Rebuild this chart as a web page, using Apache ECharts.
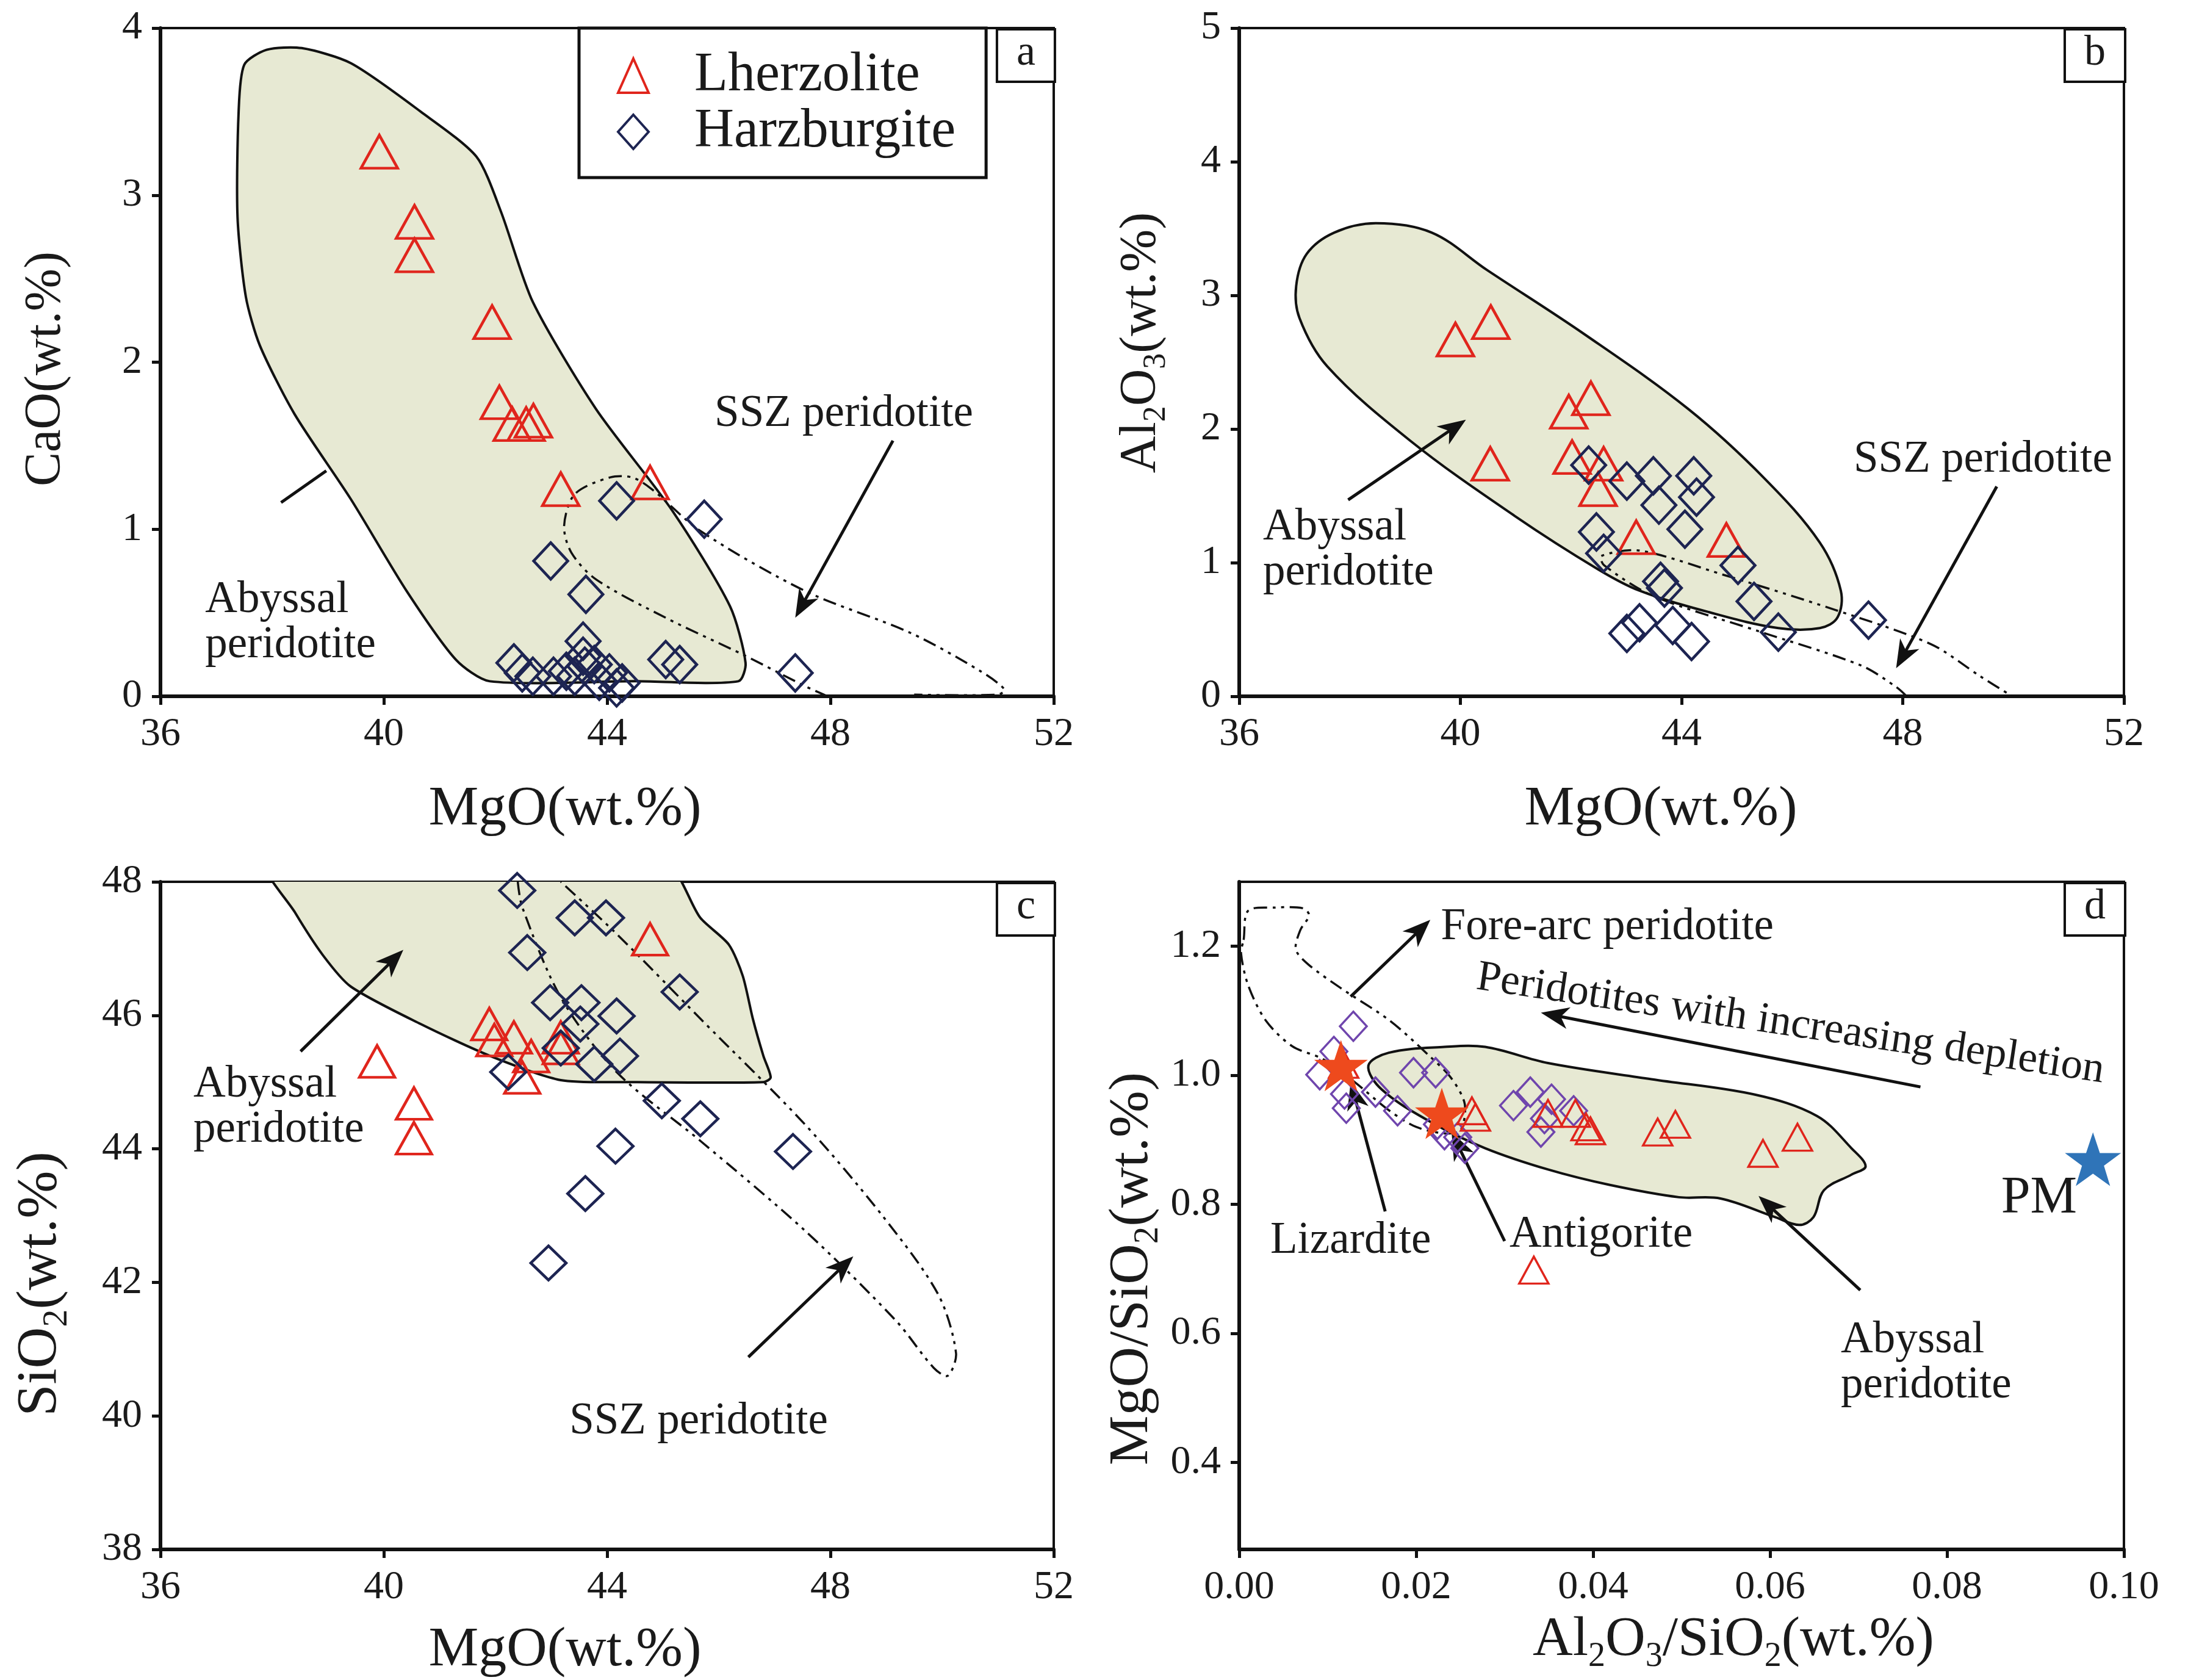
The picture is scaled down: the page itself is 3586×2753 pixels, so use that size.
<!DOCTYPE html>
<html><head><meta charset="utf-8">
<script src="https://cdn.jsdelivr.net/npm/echarts@6/dist/echarts.min.js"></script>
<style>html,body{margin:0;padding:0;background:#fff}#c{width:3586px;height:2753px}</style>
</head><body><div id="c"></div>
<script>
// ---------------- DATA ----------------
// Panel a: MgO vs CaO
const lherzA = [[39.92,3.26],[40.55,2.84],[40.55,2.64],[41.94,2.24],[42.07,1.76],[42.3,1.63],[42.55,1.63],[42.68,1.65],[43.17,1.24],[44.77,1.28]];
const harzA = [[44.17,1.17],[45.74,1.06],[42.99,0.81],[43.62,0.61],[43.57,0.33],[43.57,0.24],[42.33,0.20],[42.48,0.14],[42.67,0.12],[43.04,0.12],[43.27,0.15],[43.42,0.12],[43.77,0.19],[44.04,0.14],[44.17,0.05],[44.27,0.08],[45.05,0.22],[45.3,0.19],[47.37,0.14],[43.86,0.09],[43.6,0.18]];
const abyssalA = [[41.9,0.09],[44.5,0.09],[46.35,0.09],[46.48,0.2],[46.2,0.54],[45.17,1.11],[43.8,1.72],[42.67,2.36],[42.1,2.9],[41.66,3.23],[40.66,3.5],[39.41,3.79],[38.53,3.88],[37.9,3.87],[37.5,3.78],[37.4,3.5],[37.38,2.87],[37.53,2.39],[37.78,2.1],[38.4,1.69],[39.41,1.18],[40.41,0.63],[41.29,0.22]];
const sszA = [[47.95,0.0],[47.55,0.06],[46.43,0.25],[45.05,0.47],[43.8,0.70],[43.36,0.86],[43.23,1.02],[43.42,1.21],[44.05,1.31],[44.45,1.31],[44.8,1.24],[45.67,0.99],[47.55,0.63],[49.43,0.38],[50.69,0.15],[51.12,0.04],[51.0,0.01],[49.5,0.01]];
const arrowsA = [[38.16,1.16,38.97,1.35,0],[49.12,1.53,47.37,0.47,1]];
const textsA = [[36.8,0.44,'Abyssal\nperidotite','left',73,0],[48.24,1.69,'SSZ peridotite','center',73,0]];

// Panel b: MgO vs Al2O3
const lherzB = [[39.91,2.67],[40.55,2.80],[40.54,1.74],[41.96,2.13],[42.36,2.23],[42.02,1.79],[42.59,1.74],[42.49,1.55],[43.18,1.19],[44.81,1.17]];
const harzB = [[42.32,1.73],[43.01,1.61],[43.49,1.65],[44.22,1.65],[44.27,1.49],[43.59,1.43],[44.06,1.25],[42.46,1.23],[42.59,1.07],[45.02,0.98],[43.62,0.86],[43.69,0.81],[45.31,0.71],[47.38,0.57],[45.75,0.48],[43.01,0.47],[43.24,0.55],[43.84,0.53],[44.18,0.41]];
const abyssalB = [[37.03,3.07],[37.22,3.31],[37.72,3.47],[38.47,3.54],[39.48,3.47],[40.48,3.19],[42.24,2.71],[44.12,2.15],[45.5,1.63],[46.5,1.15],[46.88,0.79],[46.82,0.59],[46.5,0.51],[45.75,0.51],[44.49,0.63],[43.24,0.79],[42.49,0.95],[40.98,1.35],[39.1,1.91],[37.59,2.47],[37.09,2.83]];
const sszB = [[48.07,0.0],[47.88,0.07],[47.25,0.23],[45.37,0.49],[43.49,0.75],[42.6,0.98],[42.55,1.05],[43.24,1.09],[44.75,0.91],[46.75,0.65],[48.51,0.39],[49.4,0.15],[49.98,0.0]];
const arrowsB = [[37.97,1.47,40.1,2.07,1],[49.7,1.57,47.88,0.21,1]];
const textsB = [[36.43,1.09,'Abyssal\nperidotite','left',73,0],[49.45,1.77,'SSZ peridotite','center',73,0]];

// Panel c: MgO vs SiO2
const lherzC = [[39.88,45.31],[40.54,44.68],[40.54,44.16],[41.89,45.87],[41.98,45.63],[42.33,45.67],[42.48,45.07],[42.64,45.39],[43.17,45.67],[43.17,45.51],[44.77,47.14]];
const harzC = [[42.39,47.87],[43.42,47.46],[43.98,47.46],[42.57,46.94],[42.98,46.19],[43.54,46.19],[44.17,45.99],[43.52,45.87],[45.3,46.35],[43.17,45.51],[43.77,45.27],[44.23,45.39],[42.23,45.15],[44.98,44.72],[45.67,44.45],[44.15,44.04],[47.33,43.96],[43.61,43.33],[42.95,42.29]];
const abyssalC = [[37.9,48.3],[45.0,48.3],[45.67,47.46],[46.18,47.06],[46.43,46.59],[46.61,45.95],[46.8,45.39],[46.93,45.07],[46.8,45.0],[44.42,45.0],[43.17,45.03],[41.91,45.39],[40.66,45.87],[39.41,46.43],[38.91,46.9],[38.41,47.54]];
const sszC = [[42.4,48.0],[42.48,47.62],[43.17,46.27],[44.17,45.15],[45.67,44.12],[47.55,42.77],[49.18,41.42],[49.85,40.72],[50.1,40.6],[50.25,40.94],[49.93,41.82],[48.93,43.0],[47.55,44.36],[45.67,45.95],[44.17,47.22],[43.17,48.0]];
const arrowsC = [[38.51,45.46,40.35,46.98,1],[46.53,40.88,48.41,42.39,1]];
const textsC = [[36.59,44.62,'Abyssal\nperidotite','left',73,0],[45.64,39.91,'SSZ peridotite','center',73,0]];

// Panel d: Al2O3/SiO2 vs MgO/SiO2
const lherzD = [[0.0263,0.945],[0.0267,0.935],[0.0118,1.017],[0.0349,0.941],[0.0380,0.941],[0.0392,0.92],[0.0397,0.914],[0.0473,0.912],[0.0493,0.924],[0.0592,0.879],[0.0631,0.904],[0.0333,0.698]];
const harzD = [[0.0129,1.076],[0.0107,1.037],[0.0091,1.001],[0.0119,0.971],[0.0121,0.949],[0.0154,0.974],[0.0179,0.945],[0.0197,1.004],[0.0222,1.004],[0.031,0.953],[0.0329,0.974],[0.0353,0.963],[0.0345,0.933],[0.0341,0.912],[0.0378,0.945],[0.0232,0.908],[0.0247,0.904],[0.0255,0.887],[0.0224,0.924]];
const lizardite = [[0.0115,1.015]];
const antigorite = [[0.0229,0.941]];
const primitiveMantle = [[0.0965,0.87]];
const abyssalD = [[0.0146,1.015],[0.0169,1.035],[0.0232,1.044],[0.0278,1.044],[0.0349,1.019],[0.0466,0.994],[0.0583,0.97],[0.0653,0.937],[0.0692,0.887],[0.0708,0.859],[0.0692,0.846],[0.0661,0.822],[0.0649,0.78],[0.0633,0.768],[0.0606,0.78],[0.0544,0.809],[0.0497,0.811],[0.0419,0.83],[0.0349,0.854],[0.0278,0.887],[0.0216,0.928],[0.0161,0.978]];
const foreArcD = [[0.0005,1.21],[0.001,1.255],[0.004,1.26],[0.0072,1.259],[0.0079,1.248],[0.0069,1.225],[0.0064,1.195],[0.0078,1.172],[0.0115,1.135],[0.017,1.085],[0.0215,1.03],[0.024,0.995],[0.0255,0.955],[0.025,0.915],[0.0232,0.91],[0.02,0.92],[0.017,0.945],[0.013,0.99],[0.0095,1.025],[0.006,1.045],[0.003,1.085],[0.001,1.14],[0.0002,1.19]];
const arrowsD = [[0.0126,1.122,0.0216,1.241,1],[0.077,0.982,0.0341,1.097,1],[0.0165,0.789,0.0126,0.99,1],[0.0300,0.743,0.0240,0.912,1],[0.0702,0.667,0.0587,0.813,1]];
const textsD = [[0.0228,1.229,'Fore-arc peridotite','left',73,0],[0.0623,1.079,'Peridotites with increasing depletion','center',71,-8.5],[0.0126,0.743,'Lizardite','center',73,0],[0.0409,0.752,'Antigorite','center',73,0],[0.068,0.554,'Abyssal\nperidotite','left',73,0],[0.0904,0.809,'PM','center',86,0]];

const yTicksD = [0.4, 0.6, 0.8, 1.0, 1.2];

// ---------------- STYLE ----------------
const FONT = '"Liberation Serif","Times New Roman",serif';
const INK = '#1a1a1a';
const RED = '#e0251c';
const NAVY = '#1d2452';
const PURPLE = '#6f45ad';
const FIELD = '#e7e9d3';
const STAR = 'path://M50,0 L61.8,35.1 L98.1,35.1 L68.8,56.7 L79.4,91 L50,70 L20.6,91 L31.2,56.7 L1.9,35.1 L38.2,35.1 Z';

function richFor(size) {
  return {
    n:{fontFamily:FONT,fontSize:size,color:INK,lineHeight:Math.round(size*1.2)},
    s:{fontFamily:FONT,fontSize:Math.round(size*0.62),color:INK,lineHeight:Math.round(size*0.5),verticalAlign:'bottom'}
  };
}

function axis(gi, min, max, interval, name, gap, nameSize, namePad, fmt, extra) {
  const a = {
    gridIndex:gi, type:'value', min, max, name, nameLocation:'middle', nameGap:gap,
    nameTextStyle:{fontFamily:FONT,fontSize:nameSize,color:INK,padding:namePad,rich:richFor(nameSize)},
    axisLine:{show:true,onZero:false,lineStyle:{color:'#111',width:6}},
    axisTick:{show:true,inside:false,length:14,lineStyle:{color:'#111',width:5}},
    axisLabel:{fontFamily:FONT,fontSize:66,color:INK,margin:30,formatter:fmt},
    splitLine:{show:false}
  };
  if (interval != null) a.interval = interval;
  return Object.assign(a, extra || {});
}

function scatter(gi, name, data, symbol, size, color, fill, bw) {
  return {type:'scatter', name, xAxisIndex:gi, yAxisIndex:gi, data, symbol, symbolSize:size, z:6,
    itemStyle:{color: fill || 'rgba(255,255,255,0)', borderColor:color, borderWidth: bw == null ? 4.5 : bw, opacity:1},
    emphasis:{disabled:true}, silent:true};
}

function field(gi, pts, opts) {
  return {type:'custom', xAxisIndex:gi, yAxisIndex:gi, data:pts, clip:true, silent:true, z:1,
    renderItem(params, api) {
      if (params.dataIndex !== 0) return null;
      const p = pts.map(v => api.coord(v));
      return {type: opts.closed ? 'polygon' : 'polyline',
        shape:{points:p, smooth: opts.smooth == null ? 0.3 : opts.smooth},
        style:{fill: opts.fill || 'none', stroke:'#111', lineWidth: opts.lw || 4, lineDash: opts.dash || null}};
    }};
}

function arrows(gi, list) {
  return {type:'custom', xAxisIndex:gi, yAxisIndex:gi, data:list.map(a => [a[0], a[1]]), silent:true, z:4,
    renderItem(params, api) {
      const a = list[params.dataIndex];
      const p1 = api.coord([a[0], a[1]]), p2 = api.coord([a[2], a[3]]);
      const dx = p2[0]-p1[0], dy = p2[1]-p1[1], len = Math.hypot(dx, dy), ux = dx/len, uy = dy/len;
      const L = 46, W = 18;
      const children = [];
      const endX = a[4] ? p2[0]-ux*L*0.7 : p2[0], endY = a[4] ? p2[1]-uy*L*0.7 : p2[1];
      children.push({type:'line', shape:{x1:p1[0],y1:p1[1],x2:endX,y2:endY}, style:{stroke:'#111',lineWidth:5}});
      if (a[4]) {
        const bx = p2[0]-ux*L, by = p2[1]-uy*L;
        const nx = p2[0]-ux*L*0.72, ny = p2[1]-uy*L*0.72;
        children.push({type:'polygon', shape:{points:[[p2[0],p2[1]],[bx-uy*W,by+ux*W],[nx,ny],[bx+uy*W,by-ux*W]]}, style:{fill:'#111'}});
      }
      return {type:'group', children};
    }};
}

function texts(gi, list) {
  return {type:'custom', xAxisIndex:gi, yAxisIndex:gi, data:list.map(t => [t[0], t[1]]), silent:true, z:4,
    renderItem(params, api) {
      const t = list[params.dataIndex];
      const p = api.coord([t[0], t[1]]);
      return {type:'text', x:p[0], y:p[1], rotation:(t[5] || 0) * Math.PI / 180,
        style:{text:t[2], fontFamily:FONT, fontSize:t[4], fill:INK, align:t[3], verticalAlign:'middle', lineHeight:74}};
    }};
}

function panelTag(letter, right, top) {
  return {text:letter, right, top, padding:[4,32,10,32], borderColor:'#111', borderWidth:4, backgroundColor:'#fff',
    textStyle:{fontFamily:FONT, fontSize:70, fontWeight:'normal', color:INK, lineHeight:72}};
}

const chart = echarts.init(document.getElementById('c'), null, {renderer:'canvas'});
const gridStyle = {show:true, borderColor:'#111', borderWidth:4, backgroundColor:'#fff', containLabel:false};

chart.setOption({
  animation:false,
  backgroundColor:'#fff',
  title:[panelTag('a', 3586-1729, 48), panelTag('b', 3586-3483, 48), panelTag('c', 3586-1729, 1447), panelTag('d', 3586-3483, 1447)],
  legend:{left:949, top:46, orient:'vertical', data:['Lherzolite','Harzburgite'], selectedMode:false,
    itemWidth:50, itemHeight:56, itemGap:2, padding:[33,50,30,62], borderColor:'#111', borderWidth:5, backgroundColor:'#fff',
    textStyle:{fontFamily:FONT, fontSize:90, color:INK, lineHeight:80, padding:[0,0,0,70]}, itemStyle:{borderWidth:4}},
  grid:[
    Object.assign({left:263, top:46, width:1464, height:1095}, gridStyle),
    Object.assign({left:2031, top:46, width:1450, height:1095}, gridStyle),
    Object.assign({left:263, top:1445, width:1464, height:1094}, gridStyle),
    Object.assign({left:2031, top:1445, width:1450, height:1094}, gridStyle)
  ],
  xAxis:[
    axis(0, 36, 52, 4, 'MgO(wt.%)', 140, 92, [0,138,0,0]),
    axis(1, 36, 52, 4, 'MgO(wt.%)', 140, 92, [0,68,0,0]),
    axis(2, 36, 52, 4, 'MgO(wt.%)', 120, 92, [0,138,0,0]),
    axis(3, 0, 0.1, 0.02, '{n|Al}{s|2}{n|O}{s|3}{n|/SiO}{s|2}{n|(wt.%)}', 95, 91, [0,0,0,170], v => v.toFixed(2))
  ],
  yAxis:[
    axis(0, 0, 4, 1, 'CaO(wt.%)', 145, 84, [0,22,0,0]),
    axis(1, 0, 5, 1, '{n|Al}{s|2}{n|O}{s|3}{n|(wt.%)}', 110, 84, [0,0,0,64]),
    axis(2, 38, 48, 2, '{n|SiO}{s|2}{n|(wt.%)}', 140, 94, [0,224,0,0]),
    axis(3, 0.265, 1.3, null, '{n|MgO/SiO}{s|2}{n|(wt.%)}', 120, 92, [0,174,0,0], null,
      {axisLabel:{fontFamily:FONT,fontSize:66,color:INK,margin:30,formatter:v => Number(v).toFixed(1),customValues:yTicksD},
       axisTick:{show:true,inside:false,length:14,lineStyle:{color:'#111',width:5},customValues:yTicksD}})
  ],
  series:[
    // panel a
    field(0, abyssalA, {closed:true, fill:FIELD, lw:4, smooth:0.25}),
    field(0, sszA, {closed:false, lw:3.5, dash:[22,9,5,9,5,9], smooth:0.3}),
    arrows(0, arrowsA), texts(0, textsA),
    scatter(0, 'Lherzolite', lherzA, 'triangle', [60,54], RED),
    scatter(0, 'Harzburgite', harzA, 'diamond', [56,60], NAVY),
    // panel b
    field(1, abyssalB, {closed:true, fill:FIELD, lw:4, smooth:0.35}),
    field(1, sszB, {closed:false, lw:3.5, dash:[22,9,5,9,5,9], smooth:0.3}),
    arrows(1, arrowsB), texts(1, textsB),
    scatter(1, 'Lherzolite', lherzB, 'triangle', [60,54], RED),
    scatter(1, 'Harzburgite', harzB, 'diamond', [56,60], NAVY),
    // panel c
    field(2, abyssalC, {closed:true, fill:FIELD, lw:4, smooth:0.25}),
    field(2, sszC, {closed:false, lw:3.5, dash:[22,9,5,9,5,9], smooth:0.3}),
    arrows(2, arrowsC), texts(2, textsC),
    scatter(2, 'Lherzolite', lherzC, 'triangle', [58,52], RED),
    scatter(2, 'Harzburgite', harzC, 'diamond', [58,56], NAVY),
    // panel d
    field(3, abyssalD, {closed:true, fill:FIELD, lw:4, smooth:0.35}),
    field(3, foreArcD, {closed:true, lw:3.5, dash:[22,9,5,9,5,9], smooth:0.3}),
    arrows(3, arrowsD), texts(3, textsD),
    scatter(3, 'Harzburgite', harzD, 'diamond', [44,48], PURPLE, null, 3.5),
    scatter(3, 'Lherzolite', lherzD, 'triangle', [48,44], RED, null, 3.5),
    scatter(3, 'Lizardite', lizardite, STAR, [88,84], '#e8461c', '#ee4a1d', 0),
    scatter(3, 'Antigorite', antigorite, STAR, [88,84], '#e8461c', '#ee4a1d', 0),
    scatter(3, 'PM', primitiveMantle, STAR, [92,88], '#2f74b8', '#2f74b8', 0)
  ]
});
</script></body></html>
